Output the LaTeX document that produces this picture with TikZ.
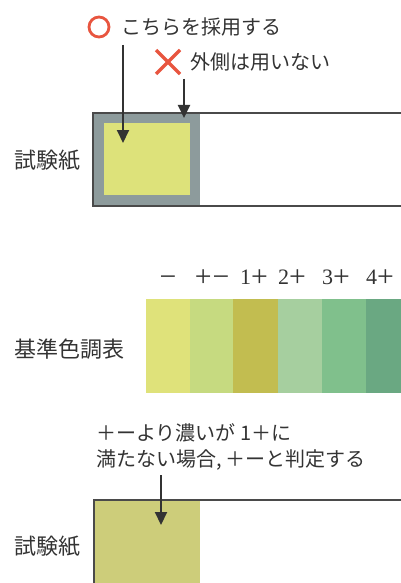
\documentclass[tikz,border=0pt]{standalone}
\usepackage{fontspec}
\usepackage{graphicx}
\setmainfont{Liberation Serif}
\newfontfamily\jp{Noto Sans CJK JP}
\usetikzlibrary{arrows.meta}
\definecolor{ink}{HTML}{333333}
\definecolor{edge}{HTML}{4A4A4A}
\definecolor{redmark}{HTML}{E8553F}
\definecolor{padgray}{HTML}{8D9B9C}
\definecolor{padyellow}{HTML}{DDE27A}
\definecolor{padolive}{HTML}{CDCD7A}
\definecolor{cA}{HTML}{DFE27A}
\definecolor{cB}{HTML}{C6DA80}
\definecolor{cC}{HTML}{C2BD50}
\definecolor{cD}{HTML}{A6CF9F}
\definecolor{cE}{HTML}{80C08C}
\definecolor{cF}{HTML}{6AA882}
\newcommand\bigplus{\raisebox{-2.6pt}{\scalebox{1.35}{+}}}
\newcommand\bigminus{\raisebox{-2.6pt}{\scalebox{1.35}{−}}}
\tikzset{
  jtext/.style={text=ink, inner sep=0pt, anchor=west, font=\jp\fontsize{20}{24}\selectfont},
  jlabel/.style={text=ink, inner sep=0pt, anchor=west, font=\jp\fontsize{22}{26}\selectfont},
  scalelabel/.style={text=ink, inner sep=0pt, anchor=base, font=\fontsize{22}{26}\selectfont},
  pointer/.style={draw=ink, line width=2pt, -{Triangle[width=12pt,length=13pt]}},
  stripedge/.style={draw=edge, line width=1.5pt}
}
\begin{document}
\begin{tikzpicture}[x=1pt,y=-1pt]
\useasboundingbox (0,0) rectangle (401,583);
\fill[white] (0,0) rectangle (401,583);

% ---- top: test paper with pad ----
\node[draw=redmark, line width=2.8pt, circle, minimum size=20pt, inner sep=0pt] (ok) at (99,27) {};
\node[jtext] (oktext) at (121,27) {こちらを採用する};
\draw[redmark, line width=3.2pt] (156,50) -- (180,74) (180,50) -- (156,74);
\coordinate (ng) at (168,62);
\node[jtext] (ngtext) at (190,62) {外側は用いない};

\fill[padgray] (93,113) rectangle (200,206);
\fill[padyellow] (104,123) rectangle (190,195);
\draw[stripedge] (403,113) -- (93,113) -- (93,206) -- (403,206);
\node[jlabel] (paper1) at (14,160) {試験紙};

\coordinate (a1s) at (123,45);
\coordinate (a1e) at (123,143);
\coordinate (a2s) at (184,79);
\coordinate (a2e) at (184,118);
\draw[pointer] (a1s) -- (a1e);
\draw[pointer] (a2s) -- (a2e);

% ---- middle: standard colour chart ----
\fill[cA] (146,299) rectangle (190,393);
\fill[cB] (190,299) rectangle (233,393);
\fill[cC] (233,299) rectangle (278,393);
\fill[cD] (278,299) rectangle (322,393);
\fill[cE] (322,299) rectangle (366,393);
\fill[cF] (366,299) rectangle (402,393);
\node[scalelabel] (s0) at (168,284) {\bigminus};
\node[scalelabel] (s1) at (212,284) {\bigplus\kern1pt\bigminus};
\node[scalelabel] (s2) at (254,284) {1\bigplus};
\node[scalelabel] (s3) at (292,284) {2\bigplus};
\node[scalelabel] (s4) at (336,284) {3\bigplus};
\node[scalelabel] (s5) at (380,284) {4\bigplus};
\node[jlabel] (chart) at (14,349) {基準色調表};

% ---- bottom: judged test paper ----
\node[jtext] (note1) at (96,433) {＋ーより濃いが 1＋に};
\node[jtext] (note2) at (96,460) {満たない場合,\,＋ーと判定する};
\fill[padolive] (94,500) rectangle (200,585);
\draw[stripedge] (403,500) -- (94,500) -- (94,585);
\node[jlabel] (paper2) at (14,546) {試験紙};
\coordinate (a3s) at (161,475);
\coordinate (a3e) at (161,525);
\draw[pointer] (a3s) -- (a3e);
\end{tikzpicture}
\end{document}
